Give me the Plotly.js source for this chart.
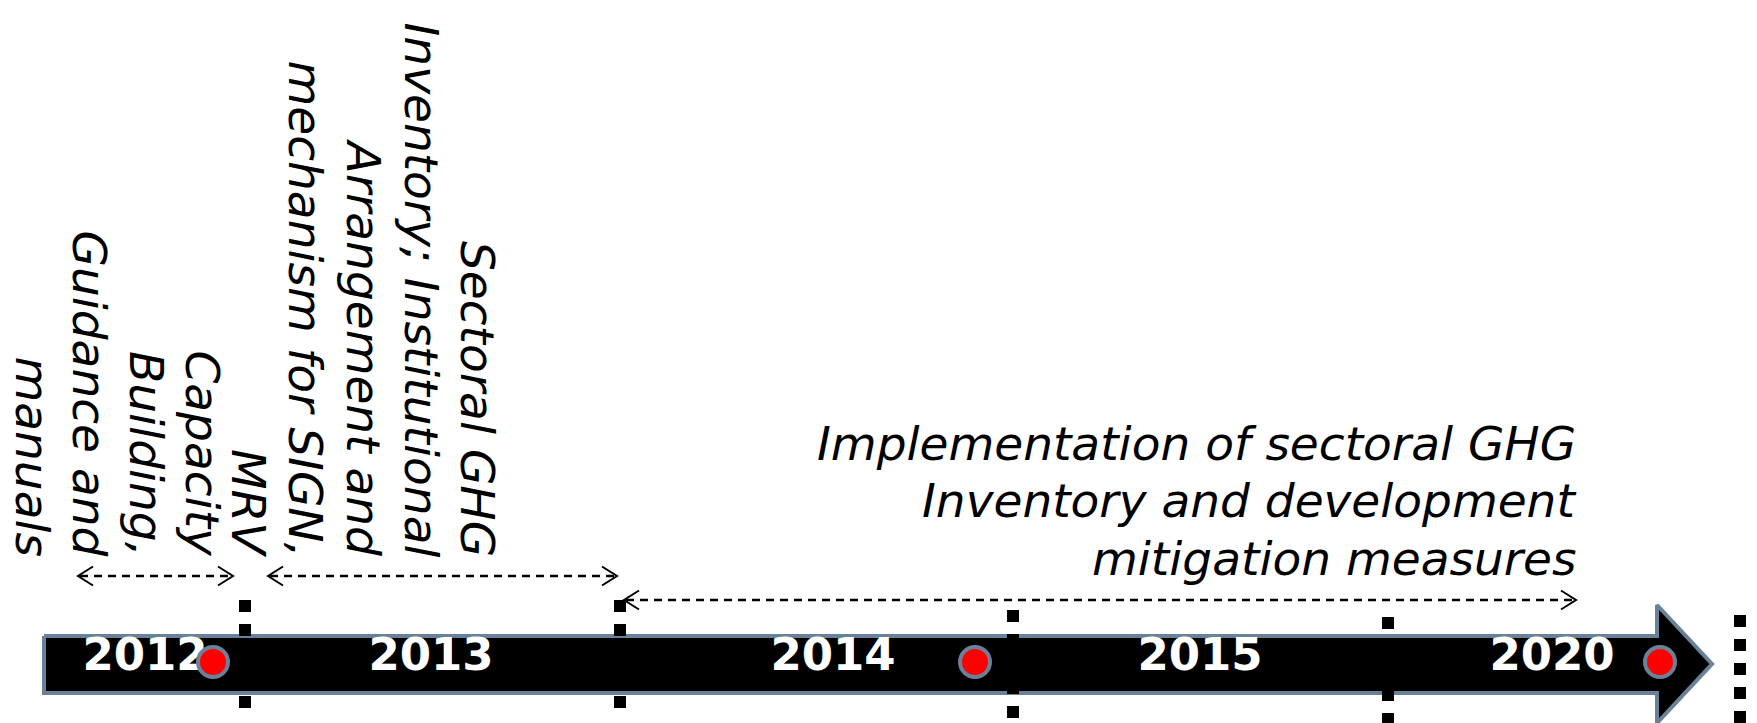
<!DOCTYPE html>
<html><head><meta charset="utf-8">
<script src="https://cdn.plot.ly/plotly-3.0.1.min.js"></script>
<style>html,body{margin:0;padding:0;background:#fff;}#chart{width:1757px;height:723px;}</style>
</head><body><div id="chart"></div>
<script>
// ---- data ----
const periodLabels = ['2012', '2013', '2014', '2015', '2020'];
const periodLabelX = [145, 431, 833, 1200, 1552];
const milestoneX = [213, 975, 1660];
const boundaryX = [245, 620, 1013, 1388, 1740];
const boundaryTop = [600, 600, 610, 617, 615];
const boundaryBottom = [712, 712, 720, 725, 725];
const spanStartX = [78, 268, 624];
const spanEndX = [233, 617, 1576];
const spanY = [576, 576, 600];
const activity1 = ['MRV', 'Capacity', 'Building,', 'Guidance and', 'manuals'];
const activity2 = ['Sectoral GHG', 'Inventory; Institutional', 'Arrangement and', 'mechanism for SIGN,'];
const activity3 = ['Implementation of sectoral GHG', 'Inventory and development', 'mitigation measures'];
const timelineX = [44, 1657, 1657, 1712, 1657, 1657, 44, 44];
const timelineY = [636, 636, 605, 664, 723, 693, 693, 636];

// ---- style ----
const FONT = 'DejaVu Sans';
const BORDER = '#6a8299';
const txtSize = 47;
const act1Base = [233, 186, 131, 73, 16];
const act2Base = [462, 405, 347, 289];
const act3Base = [459, 516, 574];
const rotEndY = 557;
const act3Right = 1576;
const yearY = 659;
const markerY = 662;

const traces = [];
// timeline bar
traces.push({x: timelineX, y: timelineY, mode: 'lines', fill: 'toself', fillcolor: '#000000',
  line: {color: BORDER, width: 4}, hoverinfo: 'skip'});
// period boundaries
boundaryX.forEach((bx, i) => {
  traces.push({x: [bx, bx], y: [boundaryTop[i], boundaryBottom[i]], mode: 'lines',
    line: {color: '#000', width: 12, dash: '12px,12px'}, hoverinfo: 'skip'});
});
// span arrows
spanStartX.forEach((sx, i) => {
  const ex = spanEndX[i], sy = spanY[i];
  traces.push({x: [sx + 2, ex - 2], y: [sy, sy], mode: 'lines',
    line: {color: '#000', width: 2.5, dash: '8px,6px'}, hoverinfo: 'skip'});
  traces.push({x: [sx + 15, sx, sx + 15], y: [sy - 9.5, sy, sy + 9.5], mode: 'lines',
    line: {color: '#000', width: 2}, hoverinfo: 'skip'});
  traces.push({x: [ex - 15, ex, ex - 15], y: [sy - 9.5, sy, sy + 9.5], mode: 'lines',
    line: {color: '#000', width: 2}, hoverinfo: 'skip'});
});
// year labels
traces.push({x: periodLabelX, y: periodLabelX.map(() => yearY), mode: 'text', text: periodLabels,
  textposition: 'middle center', textfont: {family: FONT, size: 45, color: '#ffffff', weight: 'bold'},
  hoverinfo: 'skip'});
// milestones
traces.push({x: milestoneX, y: milestoneX.map(() => markerY), mode: 'markers',
  marker: {size: 30, color: '#ff0000', line: {color: BORDER, width: 4}}, hoverinfo: 'skip'});

const annotations = [];
const tfont = {family: FONT, size: txtSize, color: '#000', style: 'italic'};
activity1.forEach((t, i) => annotations.push({text: t, x: act1Base[i] + 16, y: rotEndY, xref: 'x', yref: 'y',
  showarrow: false, textangle: 90, xanchor: 'center', yanchor: 'bottom', borderpad: 0, borderwidth: 0, font: tfont}));
activity2.forEach((t, i) => annotations.push({text: t, x: act2Base[i] + 16, y: rotEndY, xref: 'x', yref: 'y',
  showarrow: false, textangle: 90, xanchor: 'center', yanchor: 'bottom', borderpad: 0, borderwidth: 0, font: tfont}));
activity3.forEach((t, i) => annotations.push({text: t, x: act3Right, y: act3Base[i] - 16, xref: 'x', yref: 'y',
  showarrow: false, xanchor: 'right', yanchor: 'middle', borderpad: 0, borderwidth: 0, font: tfont}));

const layout = {
  width: 1757, height: 723, margin: {l: 0, r: 0, t: 0, b: 0},
  paper_bgcolor: '#ffffff', plot_bgcolor: '#ffffff', showlegend: false,
  xaxis: {range: [0, 1757], visible: false, fixedrange: true},
  yaxis: {range: [723, 0], visible: false, fixedrange: true},
  annotations: annotations, hovermode: false
};
Plotly.newPlot('chart', traces, layout, {staticPlot: true, displayModeBar: false});
</script></body></html>
